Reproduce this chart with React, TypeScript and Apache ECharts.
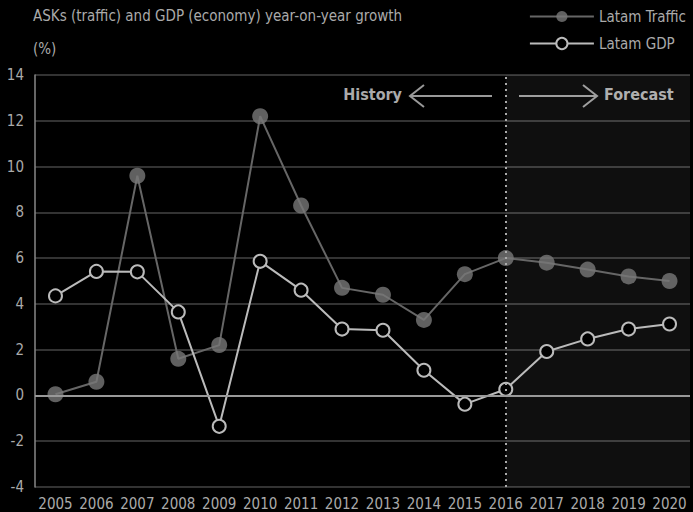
import React, { useEffect, useRef } from "react";
import * as echarts from "echarts";

const years = ["2005","2006","2007","2008","2009","2010","2011","2012","2013","2014","2015","2016","2017","2018","2019","2020"];
const trafficValues = [0.05, 0.6, 9.6, 1.6, 2.2, 12.2, 8.3, 4.7, 4.4, 3.3, 5.3, 6.0, 5.8, 5.5, 5.2, 5.0];
const gdpValues = [4.35, 5.42, 5.4, 3.65, -1.35, 5.86, 4.6, 2.9, 2.85, 1.1, -0.38, 0.27, 1.92, 2.47, 2.9, 3.12];
const yTicks = [-4, -2, 0, 2, 4, 6, 8, 10, 12, 14];
const forecastStart = "2016";

const FONT = "'Liberation Sans Narrow', 'DejaVu Sans Condensed', 'Roboto', sans-serif";

export default function App() {
  const ref = useRef<HTMLDivElement>(null);
  useEffect(() => {
    if (!ref.current) return;
    const chart = echarts.init(ref.current, undefined, { renderer: "svg" });
    chart.setOption({
      animation: false,
      backgroundColor: "#000",
      textStyle: { fontFamily: FONT },
      grid: { left: 35, right: 3, top: 75, bottom: 25 },
      legend: {
        orient: "vertical",
        right: 2,
        top: 4,
        itemGap: 12,
        itemWidth: 64,
        itemHeight: 14,
        textStyle: { color: "#aaa", fontSize: 15, fontFamily: FONT },
        data: ["Latam Traffic", "Latam GDP"],
      },
      graphic: [
        { type: "text", left: 33, top: 8, style: { text: "ASKs (traffic) and GDP (economy) year-on-year growth", fill: "#aaa", fontSize: 15, fontFamily: FONT } },
        { type: "text", left: 33, top: 41, style: { text: "(%)", fill: "#aaa", fontSize: 15, fontFamily: FONT } },
        { type: "text", right: 291, top: 86, style: { text: "History", fill: "#aaa", fontSize: 16, fontWeight: "bold", fontFamily: FONT } },
        { type: "line", shape: { x1: 410, y1: 96, x2: 492, y2: 96 }, style: { stroke: "#999", lineWidth: 2 } },
        { type: "polyline", shape: { points: [[424, 85], [410, 96], [424, 107]] }, style: { stroke: "#999", lineWidth: 2, fill: null } },
        { type: "line", shape: { x1: 519, y1: 96, x2: 597, y2: 96 }, style: { stroke: "#999", lineWidth: 2 } },
        { type: "polyline", shape: { points: [[583, 85], [597, 96], [583, 107]] }, style: { stroke: "#999", lineWidth: 2, fill: null } },
        { type: "text", left: 604, top: 86, style: { text: "Forecast", fill: "#aaa", fontSize: 16, fontWeight: "bold", fontFamily: FONT } },
      ],
      xAxis: {
        type: "category",
        data: years,
        boundaryGap: true,
        axisLine: { show: false },
        axisTick: { show: false },
        axisLabel: { color: "#aaa", fontSize: 15, fontFamily: FONT, margin: 9, interval: 0 },
        splitLine: { show: false },
      },
      yAxis: {
        type: "value",
        min: -4,
        max: 14,
        interval: 2,
        axisLine: { show: true, onZero: false, lineStyle: { color: "#888", width: 1.5 } },
        axisTick: { show: false },
        axisLabel: { color: "#aaa", fontSize: 15, fontFamily: FONT, margin: 11 },
        splitLine: { show: true, lineStyle: { color: "#444", width: 1.5 } },
      },
      series: [
        {
          name: "Latam Traffic",
          type: "line",
          data: trafficValues,
          symbol: "circle",
          symbolSize: 16,
          lineStyle: { color: "#666", width: 2 },
          itemStyle: { color: "rgba(120,120,120,0.8)", borderWidth: 0 },
          z: 3,
          markArea: {
            silent: true,
            itemStyle: { color: "rgba(255,255,255,0.06)" },
            data: [[{ xAxis: forecastStart }, {}]],
          },
          markLine: {
            silent: true,
            symbol: "none",
            label: { show: false },
            lineStyle: { color: "#aaa", type: [2, 4], width: 2 },
            data: [{ xAxis: forecastStart }],
          },
        },
        {
          name: "Latam GDP",
          type: "line",
          data: gdpValues,
          symbol: "circle",
          symbolSize: 13,
          lineStyle: { color: "#bbb", width: 2 },
          itemStyle: { color: "#000", borderColor: "#bbb", borderWidth: 2 },
          z: 4,
          markLine: {
            silent: true,
            symbol: "none",
            label: { show: false },
            lineStyle: { color: "#999", type: "solid", width: 2 },
            data: [{ yAxis: 0 }],
          },
        },
      ],
    });
    return () => chart.dispose();
  }, []);
  return <div ref={ref} style={{ width: 693, height: 512, position: "absolute", left: 0, top: 0 }} />;
}
